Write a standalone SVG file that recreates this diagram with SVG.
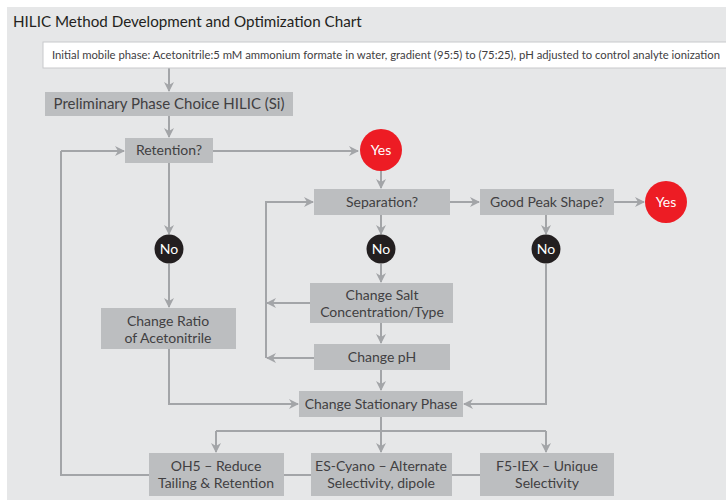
<svg xmlns="http://www.w3.org/2000/svg" width="726" height="502" viewBox="0 0 726 502">
<defs>
<style>
.box{fill:#bcbec0}
.t{font-family:Lato,"Open Sans","Liberation Sans",sans-serif;fill:#414042;text-anchor:middle}
.m{font-size:14px}
.l{font-size:15px}
.c{stroke:#a3a5a8;stroke-width:2;fill:none}
.a{stroke:#a3a5a8;stroke-width:2;fill:none;marker-end:url(#ah)}
.no{fill:#231f20}
.yes{fill:#ed1c24}
.w{font-family:Lato,"Open Sans","Liberation Sans",sans-serif;fill:#ffffff;text-anchor:middle}
</style>
<marker id="ah" viewBox="0 0 10 10" refX="9" refY="5" markerWidth="5" markerHeight="5" orient="auto" markerUnits="strokeWidth">
<path d="M0,0 L10,5 L0,10 L3,5 z" fill="#a3a5a8"/>
</marker>
</defs>
<rect x="0" y="0" width="726" height="502" fill="#ffffff"/>
<rect x="7" y="7" width="719" height="493" fill="#e6e7e8"/>
<text x="13" y="27" font-family="Lato,'Open Sans','Liberation Sans',sans-serif" font-size="15.2" fill="#231f20">HILIC Method Development and Optimization Chart</text>

<g id="connectors">
<path class="a" d="M169,68 V91"/>
<path class="a" d="M169,116 V137"/>
<path class="a" d="M213,151 H358"/>
<path class="a" d="M381,171 V188"/>
<path class="a" d="M169,163 V234"/>
<path class="a" d="M169,264 V307"/>
<path class="a" d="M169,349 V404 H298"/>
<path class="a" d="M61,151 H124"/>
<path class="c" d="M61,151 V475 H149"/>
<path class="a" d="M450,202 H479"/>
<path class="a" d="M614,202 H644"/>
<path class="a" d="M381,215 V234"/>
<path class="a" d="M546,215 V234"/>
<path class="a" d="M381,264 V282"/>
<path class="a" d="M381,323 V343"/>
<path class="a" d="M381,370 V390"/>
<path class="a" d="M546,264 V404 H464"/>
<path class="a" d="M266,358 V202 H313"/>
<path class="a" d="M310,303 H267"/>
<path class="a" d="M314,358 H267"/>
<path class="c" d="M381,417 V431"/>
<path class="c" d="M216,431 H546"/>
<path class="a" d="M216,431 V452"/>
<path class="a" d="M381,431 V452"/>
<path class="a" d="M546,431 V452"/>
<path class="c" d="M284,475 H311"/>
<path class="c" d="M452,475 H480"/>
</g>

<g id="initial">
<rect x="43" y="42" width="690" height="26" fill="#ffffff" stroke="#c8c9cb" stroke-width="1"/>
<text x="52" y="59" font-family="Lato,'Open Sans','Liberation Sans',sans-serif" font-size="11.5" fill="#414042" textLength="668" lengthAdjust="spacingAndGlyphs">Initial mobile phase: Acetonitrile:5 mM ammonium formate in water, gradient (95:5) to (75:25), pH adjusted to control analyte ionization</text>
</g>
<g id="preliminary">
<rect class="box" x="45" y="92" width="248" height="24"/>
<text class="t l" x="169" y="109">Preliminary Phase Choice HILIC (Si)</text>
</g>
<g id="retention">
<rect class="box" x="125" y="138" width="88" height="25"/>
<text class="t m" x="169" y="155">Retention?</text>
</g>
<g id="yes1">
<circle class="yes" cx="381" cy="150" r="21"/>
<text class="w m" x="381" y="155">Yes</text>
</g>
<g id="separation">
<rect class="box" x="314" y="189" width="136" height="26"/>
<text class="t m" x="382" y="207">Separation?</text>
</g>
<g id="peak">
<rect class="box" x="480" y="189" width="134" height="26"/>
<text class="t m" x="547" y="207">Good Peak Shape?</text>
</g>
<g id="yes2">
<circle class="yes" cx="666" cy="202" r="21"/>
<text class="w m" x="666" y="207">Yes</text>
</g>
<g id="no1">
<circle class="no" cx="169" cy="249" r="14.5"/>
<text class="w m" x="169" y="254">No</text>
</g>
<g id="no2">
<circle class="no" cx="381" cy="249" r="14.5"/>
<text class="w m" x="381" y="254">No</text>
</g>
<g id="no3">
<circle class="no" cx="546" cy="249" r="14.5"/>
<text class="w m" x="546" y="254">No</text>
</g>
<g id="ratio">
<rect class="box" x="101" y="308" width="135" height="41"/>
<text class="t m" x="168" y="326">Change Ratio</text>
<text class="t m" x="168" y="343">of Acetonitrile</text>
</g>
<g id="salt">
<rect class="box" x="310" y="283" width="143" height="40"/>
<text class="t m" x="382" y="300">Change Salt</text>
<text class="t m" x="382" y="317">Concentration/Type</text>
</g>
<g id="ph">
<rect class="box" x="314" y="344" width="136" height="26"/>
<text class="t m" x="382" y="362">Change pH</text>
</g>
<g id="stationary">
<rect class="box" x="299" y="391" width="164" height="26"/>
<text class="t m" x="381" y="409">Change Stationary Phase</text>
</g>
<g id="oh5">
<rect class="box" x="149" y="453" width="135" height="43"/>
<text class="t m" x="216" y="471">OH5 – Reduce</text>
<text class="t m" x="216" y="488">Tailing &amp; Retention</text>
</g>
<g id="escyano">
<rect class="box" x="311" y="453" width="141" height="43"/>
<text class="t m" x="381" y="471">ES-Cyano – Alternate</text>
<text class="t m" x="381" y="488">Selectivity, dipole</text>
</g>
<g id="f5iex">
<rect class="box" x="480" y="453" width="134" height="43"/>
<text class="t m" x="547" y="471">F5-IEX – Unique</text>
<text class="t m" x="547" y="488">Selectivity</text>
</g>
</svg>
